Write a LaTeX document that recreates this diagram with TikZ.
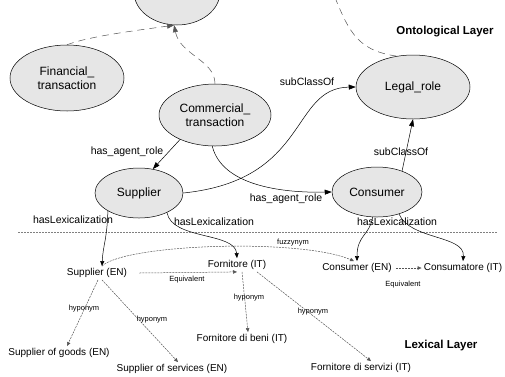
\documentclass[tikz,border=0pt]{standalone}
\usepackage{fontspec}
\setmainfont{Liberation Sans}
\usetikzlibrary{shapes.geometric,arrows.meta}
\definecolor{conceptgray}{HTML}{E6E6E6}
\definecolor{linkgray}{HTML}{555555}

\begin{document}
\begin{tikzpicture}[x=1pt, y=-1pt, line width=0.5pt,
    concept/.style = {ellipse, draw, fill=conceptgray, align=center, inner sep=0pt, font=\fontsize{12}{13.5}\selectfont},
    word/.style = {inner sep=2pt, font=\fontsize{10}{12}\selectfont},
    rel/.style = {inner sep=0pt, font=\fontsize{10.5}{12}\selectfont},
    small/.style = {inner sep=0pt, font=\fontsize{7.5}{9}\selectfont},
    layer/.style = {inner sep=0pt, font=\bfseries\fontsize{11.5}{13}\selectfont},
    onto/.style = {-{Triangle[length=7pt,width=5pt]}},
    isa/.style = {linkgray, dash pattern=on 7pt off 5pt, -{Triangle[length=7pt,width=5pt]}},
    lexlink/.style = {-{Triangle[length=5pt,width=4pt]}},
    weak/.style = {linkgray, dash pattern=on 2pt off 1pt, -{Triangle[length=4pt,width=3.5pt]}}]
    \clip (0,0) rectangle (505,376);
    % ontological layer
    \node [concept, minimum width=86, minimum height=66] (thing) at (177,-8) {};
    \node [concept, minimum width=114, minimum height=66] (fin) at (67,78) {Financial\_\\transaction};
    \node [concept, minimum width=112, minimum height=62] (comm) at (215,115) {Commercial\_\\transaction};
    \node [concept, minimum width=114, minimum height=64] (legal) at (413,87) {Legal\_role};
    \node [concept, minimum width=88, minimum height=50] (sup) at (139,193) {Supplier};
    \node [concept, minimum width=90, minimum height=50] (con) at (377,192) {Consumer};
    \coordinate (above) at (330,-15);
    \node [layer] (ontoTitle) at (445,32) {Ontological Layer};
    \draw [isa] (fin.north) .. controls (90,36) and (140,30) .. (thing.265);
    \draw [isa] (comm.north) .. controls (215,60) and (180,55) .. (thing.265);
    \draw [linkgray, dash pattern=on 7pt off 5pt] (legal.118) .. controls (355,50) and (348,30) .. (above);
    \draw [onto] (comm.215) -- (sup.60);
    \draw [onto] (comm.265) .. controls (222,185) and (280,193) .. (con.west);
    \draw [onto] (sup.east) .. controls (310,180) and (290,88) .. (legal.west);
    \draw [onto] (con.40) -- (legal.south);
    \node [rel] (lblSubUp) at (307,82) {subClassOf};
    \node [rel] (lblSubRight) at (401,152) {subClassOf};
    \node [rel] (lblAgentUp) at (127,152) {has\_agent\_role};
    \node [rel] (lblAgentLow) at (286,199) {has\_agent\_role};
    % border between the layers
    \draw [gray, dash pattern=on 2pt off 1pt] (18,232) -- (497,232);
    % lexical layer
    \node [word] (supEN) at (97,273) {Supplier (EN)};
    \node [word] (fornIT) at (237,265) {Fornitore (IT)};
    \node [word] (conEN) at (357,268) {Consumer (EN)};
    \node [word] (consIT) at (463,268) {Consumatore (IT)};
    \node [word] (supGoods) at (59,353) {Supplier of goods (EN)};
    \node [word] (supServ) at (172,369) {Supplier of services (EN)};
    \node [word] (fornBeni) at (242,339) {Fornitore di beni (IT)};
    \node [word] (fornServ) at (361,368) {Fornitore di servizi (IT)};
    \node [layer] (lexTitle) at (441,346) {Lexical Layer};
    \draw [lexlink] (sup.210) .. controls (107,240) and (103,245) .. ([xshift=5pt]supEN.north);
    \draw [lexlink] (sup.-35) .. controls (172,240) and (235,232) .. (fornIT.north);
    \draw [lexlink] (con.260) .. controls (370,235) and (357,235) .. (conEN.north);
    \draw [lexlink] (con.-45) .. controls (410,240) and (465,235) .. (consIT.north);
    \node [rel] (lblLexL) at (73,220) {hasLexicalization};
    \node [rel] (lblLexM) at (214,222) {hasLexicalization};
    \node [rel] (lblLexR) at (397,222) {hasLexicalization};
    \draw [weak] ([xshift=5pt]supEN.north) .. controls (125,244) and (300,238) .. ([xshift=-3pt]conEN.north);
    \draw [weak] ([xshift=10pt]supEN.east) -- (fornIT.south);
    \draw [weak] ([xshift=2pt]conEN.east) -- (consIT.west);
    \draw [weak] ([xshift=1pt]supEN.south) -- ([xshift=8pt]supGoods.north);
    \draw [weak] ([xshift=5pt]supEN.south) -- ([xshift=6pt]supServ.north);
    \draw [weak] ([xshift=5pt]fornIT.south) -- ([xshift=6pt]fornBeni.north);
    \draw [weak] ([xshift=20pt]fornIT.south) -- ([xshift=10pt]fornServ.north);
    \node [small] (lblFuzzy) at (293,243) {fuzzynym};
    \node [small] (lblEquivL) at (187,280) {Equivalent};
    \node [small] (lblEquivR) at (403,285) {Equivalent};
    \node [small] (lblHypoA) at (84,309) {hyponym};
    \node [small] (lblHypoB) at (152,320) {hyponym};
    \node [small] (lblHypoC) at (249,298) {hyponym};
    \node [small] (lblHypoD) at (313,312) {hyponym};
\end{tikzpicture}
\end{document}
